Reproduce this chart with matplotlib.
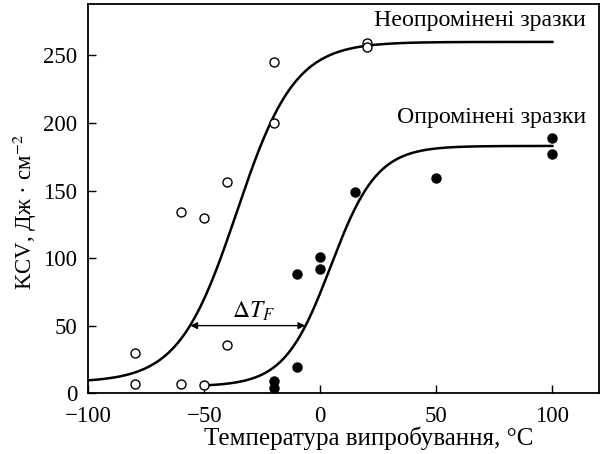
#!/usr/bin/env python3

import numpy as np
import matplotlib
matplotlib.use('Agg')
import matplotlib.pyplot as plt

plt.rcParams['font.family'] = ['Liberation Serif', 'DejaVu Serif']
plt.rcParams['mathtext.fontset'] = 'stix'

# Неопромінені зразки (відкриті кружки)
t_open = [-80, -80, -60, -60, -50, -50, -40, -40, -20, -20, 20, 20]
kcv_open = [30, 7, 134, 7, 130, 6, 156, 36, 245, 200, 259, 256]

# Опромінені зразки (зафарбовані кружки)
t_fill = [-20, -20, -10, -10, 0, 0, 15, 50, 100, 100]
kcv_fill = [9, 4, 88, 19, 101, 92, 149, 159, 189, 177]

# Параметри tanh-апроксимації: нижня полиця, верхня полиця, T0, ширина, діапазон
fit_open = dict(lower=8, upper=260, t0=-36, width=25, tmin=-100, tmax=100)
fit_fill = dict(lower=5, upper=183, t0=4.5, width=20, tmin=-50, tmax=100)

# Зсув ΔT_F на рівні 50 Дж/см2
dtf_level = 50
dtf_left = -56
dtf_right = -6.5


def tanh_curve(p):
    t = np.linspace(p['tmin'], p['tmax'], 300)
    half = (p['upper'] - p['lower']) / 2
    return t, p['lower'] + half * (1 + np.tanh((t - p['t0']) / p['width']))


fig = plt.figure(figsize=(6, 4.54), dpi=100)
ax = fig.add_axes([0.147, 0.134, 0.851, 0.857])

t1, y1 = tanh_curve(fit_open)
t2, y2 = tanh_curve(fit_fill)
ax.plot(t1, y1, color='black', lw=1.8, zorder=2)
ax.plot(t2, y2, color='black', lw=1.8, zorder=2)

ax.plot(t_open, kcv_open, 'o', ms=6.5, mfc='white', mec='black', mew=1.0, zorder=3)
ax.plot(t_fill, kcv_fill, 'o', ms=6.5, mfc='black', mec='black', zorder=3)

ax.annotate('', xy=(dtf_left, dtf_level), xytext=(dtf_right, dtf_level),
            arrowprops=dict(arrowstyle='<|-|>', color='black', lw=1.0,
                            mutation_scale=10, shrinkA=0, shrinkB=0))
ax.text(-29, 56, r'$\Delta T_F$', ha='center', va='baseline', fontsize=17)

ax.text(114.5, 276, 'Неопромінені зразки', ha='right', va='center', fontsize=17.2)
ax.text(114.5, 204, 'Опромінені зразки', ha='right', va='center', fontsize=17.2)

ax.set_xlim(-100, 120)
ax.set_ylim(0, 288)
ax.set_xticks([-100, -50, 0, 50, 100])
ax.set_xticklabels(['\u2212100', '\u221250', '0', '50', '100'])
ax.set_yticks([0, 50, 100, 150, 200, 250])

ax.tick_params(direction='in', length=6, width=1.0, labelsize=16.5,
               top=False, right=False)
ax.tick_params(axis='x', pad=9)
ax.tick_params(axis='y', pad=8)
for s in ax.spines.values():
    s.set_linewidth(1.3)

ax.set_xlabel('Температура випробування, °С', fontsize=18)
ax.xaxis.set_label_coords(0.55, -0.085)
ax.set_ylabel('KCV, Дж · см$^{-2}$', fontsize=16.5)
ax.yaxis.set_label_coords(-0.096, 0.465)

fig.savefig('out.png', dpi=100)
